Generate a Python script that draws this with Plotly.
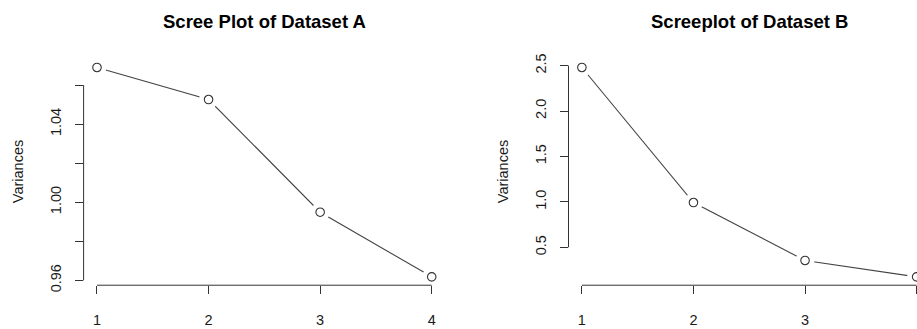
import plotly.graph_objects as go

# ---- data ----
components = [1, 2, 3, 4]
variances_a = [1.069, 1.0526, 0.9949, 0.9618]
variances_b = [2.479, 0.993, 0.355, 0.175]

yticks_a = [0.96, 0.98, 1.00, 1.02, 1.04, 1.06]
yticklabels_a = ["0.96", "", "1.00", "", "1.04", ""]
yticks_b = [0.5, 1.0, 1.5, 2.0, 2.5]
yticklabels_b = ["0.5", "1.0", "1.5", "2.0", "2.5"]
xticks = [1, 2, 3, 4]
xticklabels = ["1", "2", "3", "4"]

title_a = "Scree Plot of Dataset A"
title_b = "Screeplot of Dataset B"
ylab = "Variances"

# ---- layout geometry (pixels) ----
W, H = 917, 329
TOP, BOTTOM = 55.3, 290.7
L1, R1 = 83.6, 445.1
L2 = 568.5
PX_PER_UNIT = (R1 - L1) / 3.24
FONT = "Liberation Sans, Arial, Helvetica, sans-serif"
AX = "#333333"
TXT = "#1a1a1a"


def r_range(vals):
    lo, hi = min(vals), max(vals)
    pad = 0.04 * (hi - lo)
    return [lo - pad, hi + pad]


def px(x):
    return x / W


def py(y):
    return 1 - y / H


fig = go.Figure()


def add_series(xaxis, yaxis, ys):
    # connecting line
    fig.add_trace(go.Scatter(x=components, y=ys, mode="lines", xaxis=xaxis, yaxis=yaxis,
                             line=dict(color="#444444", width=1.1),
                             hoverinfo="skip", showlegend=False))
    # white halo that opens a gap in the line around each point (R type="b")
    fig.add_trace(go.Scatter(x=components, y=ys, mode="markers", xaxis=xaxis, yaxis=yaxis,
                             marker=dict(symbol="circle", size=19, color="#ffffff",
                                         line=dict(width=0, color="#ffffff")),
                             hoverinfo="skip", showlegend=False))
    # open circle points
    fig.add_trace(go.Scatter(x=components, y=ys, mode="markers", xaxis=xaxis, yaxis=yaxis,
                             marker=dict(symbol="circle-open", size=8.5, color="#333333",
                                         line=dict(width=1.1, color="#333333")),
                             showlegend=False))


add_series("x", "y", variances_a)
add_series("x2", "y2", variances_b)

common_x = dict(showgrid=False, zeroline=False, showline=False, ticks="outside", ticklen=8,
                tickwidth=1, tickcolor=AX, tickvals=xticks, ticktext=xticklabels,
                tickfont=dict(family=FONT, size=14.5, color=TXT), ticklabelstandoff=13)
common_y = dict(showgrid=False, zeroline=False, showline=False, ticks="outside", ticklen=8,
                tickwidth=1, tickcolor=AX, tickangle=-90,
                tickfont=dict(family=FONT, size=14.5, color=TXT), ticklabelstandoff=8)

fig.update_layout(
    width=W, height=H,
    margin=dict(l=0, r=0, t=0, b=0),
    paper_bgcolor="white", plot_bgcolor="white",
    xaxis=dict(domain=[px(L1), px(R1)], range=[0.88, 4.12], anchor="y", **common_x),
    yaxis=dict(domain=[py(BOTTOM), py(TOP)], range=r_range(variances_a), anchor="x",
               tickvals=yticks_a, ticktext=yticklabels_a, **common_y),
    xaxis2=dict(domain=[px(L2), 1.0], range=[0.88, 0.88 + (W - L2) / PX_PER_UNIT], anchor="y2", **common_x),
    yaxis2=dict(domain=[py(BOTTOM), py(TOP)], range=r_range(variances_b), anchor="x2",
                tickvals=yticks_b, ticktext=yticklabels_b, **common_y),
)

# axis lines spanning only the tick range (R style)
shapes = []
for xa, ya, yt in [("x", "y", yticks_a), ("x2", "y2", yticks_b)]:
    shapes.append(dict(type="line", xref=f"{xa} domain", x0=0, x1=0, yref=ya, y0=min(yt), y1=max(yt),
                       line=dict(color=AX, width=1)))
    shapes.append(dict(type="line", xref=xa, x0=min(xticks), x1=max(xticks), yref=f"{ya} domain", y0=0, y1=0,
                       line=dict(color=AX, width=1)))
fig.update_layout(shapes=shapes)

mid_y = py((TOP + BOTTOM) / 2)
annotations = [
    dict(text=f"<b>{title_a}</b>", x=px((L1 + R1) / 2), y=py(16.5), xref="paper", yref="paper",
         showarrow=False, font=dict(family=FONT, size=18.5, color="black"), xanchor="center", yanchor="middle"),
    dict(text=f"<b>{title_b}</b>", x=px(L2 + (R1 - L1) / 2), y=py(16.5), xref="paper", yref="paper",
         showarrow=False, font=dict(family=FONT, size=18.5, color="black"), xanchor="center", yanchor="middle"),
    dict(text=ylab, x=px(18), y=mid_y, xref="paper", yref="paper", textangle=-90,
         showarrow=False, font=dict(family=FONT, size=14.5, color=TXT), xanchor="center", yanchor="middle"),
    dict(text=ylab, x=px(L2 - 65.5), y=mid_y, xref="paper", yref="paper", textangle=-90,
         showarrow=False, font=dict(family=FONT, size=14.5, color=TXT), xanchor="center", yanchor="middle"),
]
fig.update_layout(annotations=annotations)

fig.write_html("out.html", config={"displayModeBar": False},
               post_script="document.body.style.margin='0';document.body.style.overflow='hidden';")
